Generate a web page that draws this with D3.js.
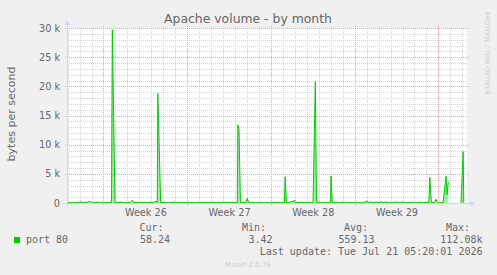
<!DOCTYPE html>
<html>
<head>
<meta charset="utf-8">
<script src="https://cdn.jsdelivr.net/npm/d3@7"></script>
<style>
  body { margin:0; background:#f0f0f0; }
  svg { display:block; }
  text { fill:#666; font-family:"DejaVu Sans", sans-serif; }
  .mono { font-family:"DejaVu Sans Mono", monospace; font-size:10px; }
</style>
</head>
<body>
<div id="vis"></div>
<script>
// days since Mon 22 Jun 2026 (start of Week 26)
var days = [
 -3.05,-2.80,-2.55,-2.22,-1.88,-1.71,-1.55,-1.38,-1.21,-1.09,
 -0.96,-0.71,-0.46,-0.33,-0.25,-0.13,0.13,0.38,0.67,0.74,
 0.96,1.21,1.52,1.63,1.96,2.22,2.34,2.42,2.51,2.80,
 3.14,3.47,3.55,3.89,4.14,4.39,4.50,4.54,4.78,4.97,
 5.14,5.23,5.56,5.98,6.06,6.40,6.82,7.23,7.65,8.07,
 8.49,8.82,9.16,9.24,9.57,9.74,9.82,9.99,10.08,10.33,
 10.58,10.66,10.99,11.19,11.23,11.33,11.45,11.66,11.91,12.02,
 12.12,12.25,12.39,12.50,12.75,13.09,13.42,13.75,14.09,14.34,
 14.42,14.59,14.67,14.92,15.13,15.19,15.30,15.51,15.76,15.84,
 15.95,16.05,16.26,16.57,16.68,16.93,17.27,17.35,17.52,17.71,
 17.81,17.94,18.11,18.19,18.44,18.56,18.69,18.77,18.90,18.98,
 19.02,19.13,19.27,19.50,19.61,19.86,20.13,20.23,20.53,20.86,
 21.19,21.53,21.78,21.95,22.03,22.12,22.42,22.53,22.87,22.95,
 23.20,23.29,23.37,23.54,23.62,23.79,23.87,24.21,24.52,24.62,
 25.04,25.13,25.46,25.63,25.71,25.90,26.00,26.30,26.46,26.55,
 26.88,27.20,27.28,27.41,27.55,27.72,27.80,27.89,28.01,28.22,
 28.39,28.64,28.72,28.83,28.90,29.89,30.07,30.12];
// port 80, bytes per second (null = no data)
var volume = [
 80,60,50,70,200,60,180,60,300,250,
 60,50,180,60,170,60,50,60,70,29700,
 80,60,180,60,60,80,300,500,100,60,
 50,150,60,60,70,300,100,18800,90,60,
 150,60,50,180,60,50,60,70,50,60,
 70,50,150,60,60,150,60,180,60,60,
 150,60,70,80,13400,12600,90,60,100,800,
 200,60,160,60,50,60,50,60,50,150,
 60,170,60,60,100,4500,90,60,300,150,
 500,100,60,170,60,60,150,60,70,20800,
 80,60,170,60,60,160,60,170,60,100,
 4650,90,60,180,60,50,170,60,60,50,
 60,50,60,250,350,80,200,60,170,60,
 200,180,60,200,60,180,60,50,200,60,
 180,60,60,170,60,160,60,60,170,60,
 60,90,4400,90,60,200,650,200,60,60,
 80,4600,1400,3650,null,60,8800,58.24];

var weekStarts = [0, 7, 14, 21, 28];
var weekLabels = ["Week 26", "Week 27", "Week 28", "Week 29"];
var yTicks = [0, 5000, 10000, 15000, 20000, 25000, 30000];
var legendHeads = ["Cur:", "Min:", "Avg:", "Max:"];
var legendValues = ["58.24", "3.42", "559.13", "112.08k"];

var W = 497, H = 275;
var pL = 67, pR = 467, pT = 28, pB = 203;

var svg = d3.select("#vis").append("svg").attr("width", W).attr("height", H);
svg.append("rect").attr("width", W).attr("height", H).attr("fill", "#f0f0f0");

var x = d3.scaleLinear().domain([-3.05, 30.39]).range([pL, pR]);
var y = d3.scaleLinear().domain([0, 30000]).range([pB, pT]);

svg.append("rect").attr("x", pL).attr("y", pT)
   .attr("width", pR - pL).attr("height", pB - pT).attr("fill", "#fff");

// minor grid
var g = svg.append("g").attr("id", "grid");
g.selectAll(".hmin").data(d3.range(1000, 30001, 1000).filter(function(v){ return v % 5000; }))
  .enter().append("line")
  .attr("x1", pL).attr("x2", pR)
  .attr("y1", function(d){ return Math.round(y(d)) + 0.5; })
  .attr("y2", function(d){ return Math.round(y(d)) + 0.5; })
  .attr("stroke", "#d4d4d4").attr("stroke-dasharray", "1,1");
g.selectAll(".vmin").data(d3.range(-3, 31).filter(function(d){ return d % 7 != 0; }))
  .enter().append("line")
  .attr("x1", function(d){ return Math.round(x(d)) + 0.5; })
  .attr("x2", function(d){ return Math.round(x(d)) + 0.5; })
  .attr("y1", pT).attr("y2", pB)
  .attr("stroke", "#d4d4d4").attr("stroke-dasharray", "1,1");
// major grid (red)
g.selectAll(".hmaj").data(yTicks.slice(1))
  .enter().append("line")
  .attr("x1", pL - 2).attr("x2", pR + 2)
  .attr("y1", function(d){ return Math.round(y(d)) + 0.5; })
  .attr("y2", function(d){ return Math.round(y(d)) + 0.5; })
  .attr("stroke", "#eaa3a3").attr("stroke-dasharray", "1,1");
g.selectAll(".vmaj").data(weekStarts)
  .enter().append("line")
  .attr("x1", function(d){ return Math.round(x(d)) + 0.5; })
  .attr("x2", function(d){ return Math.round(x(d)) + 0.5; })
  .attr("y1", pT - 2).attr("y2", pB + 3)
  .attr("stroke", "#eaa3a3").attr("stroke-dasharray", "1,1");

// data
var pts = days.map(function(d, i){ return [d, volume[i]]; });
var area = d3.area().defined(function(d){ return d[1] != null; })
   .x(function(d){ return x(d[0]); }).y0(y(0)).y1(function(d){ return y(d[1]); });
var line = d3.line().defined(function(d){ return d[1] != null; })
   .x(function(d){ return x(d[0]); }).y(function(d){ return y(d[1]); });
svg.append("path").attr("d", area(pts)).attr("fill", "#00cc00").attr("fill-opacity", 0.35);
svg.append("path").attr("d", line(pts)).attr("fill", "none")
   .attr("stroke", "#00cc00").attr("stroke-width", 1);

// axes lines + arrows
var axc = "#cfd6f8";
svg.append("line").attr("x1", pL - 4).attr("x2", pR + 4)
   .attr("y1", pB + 0.5).attr("y2", pB + 0.5).attr("stroke", axc);
svg.append("path").attr("d", "M" + (pR + 3) + "," + (pB - 2.5) + "L" + (pR + 8) + "," + (pB + 0.5) + "L" + (pR + 3) + "," + (pB + 3.5) + "Z").attr("fill", axc);
svg.append("line").attr("x1", pL + 0.5).attr("x2", pL + 0.5)
   .attr("y1", pB + 4).attr("y2", pT - 4).attr("stroke", axc);
svg.append("path").attr("d", "M" + (pL - 2.5) + "," + (pT - 3) + "L" + (pL + 0.5) + "," + (pT - 8) + "L" + (pL + 3.5) + "," + (pT - 3) + "Z").attr("fill", axc);

// tick labels
var yAxis = d3.axisLeft(y).tickValues(yTicks).tickSize(0).tickPadding(7)
   .tickFormat(function(d){ return d == 0 ? "0" : (d / 1000) + " k"; });
svg.append("g").attr("transform", "translate(" + pL + ",0)").call(yAxis)
   .call(function(s){ s.select(".domain").remove(); })
   .selectAll("text").attr("font-size", "9.7px").attr("font-family", "DejaVu Sans").attr("fill", "#666");

var xAxis = d3.axisBottom(x).tickValues(weekStarts.slice(0, 4).map(function(d){ return d + 3.5; }))
   .tickSize(0).tickPadding(6)
   .tickFormat(function(d, i){ return weekLabels[i]; });
svg.append("g").attr("transform", "translate(0," + pB + ")").call(xAxis)
   .call(function(s){ s.select(".domain").remove(); })
   .selectAll("text").attr("font-size", "9.7px").attr("font-family", "DejaVu Sans").attr("fill", "#666");

// titles
svg.append("text").attr("x", 248).attr("y", 23).attr("text-anchor", "middle")
   .attr("font-size", "12.4px").text("Apache volume - by month");
svg.append("text").attr("transform", "translate(15,114) rotate(-90)").attr("text-anchor", "middle")
   .attr("font-size", "11px").text("bytes per second");
svg.append("text").attr("transform", "translate(485,53) rotate(90)").attr("text-anchor", "middle")
   .attr("font-size", "6.5px").style("fill", "#ccc").text("RRDTOOL / TOBI OETIKER");

// legend
var colEnds = [163.5, 266, 368, 470];
var valEnds = [170, 272.5, 374.5, 482.5];
svg.append("rect").attr("x", 14).attr("y", 237).attr("width", 6).attr("height", 6).attr("fill", "#00cc00");
svg.append("text").attr("class", "mono").attr("x", 26).attr("y", 243.3).text("port 80");
svg.selectAll(".lh").data(legendHeads).enter().append("text").attr("class", "mono")
   .attr("x", function(d, i){ return colEnds[i]; }).attr("y", 230.5).attr("text-anchor", "end").text(function(d){ return d; });
svg.selectAll(".lv").data(legendValues).enter().append("text").attr("class", "mono")
   .attr("x", function(d, i){ return valEnds[i]; }).attr("y", 243.3).attr("text-anchor", "end").text(function(d){ return d; });
svg.append("text").attr("class", "mono").attr("x", 482.5).attr("y", 255.3).attr("text-anchor", "end")
   .text("Last update: Tue Jul 21 05:20:01 2026");
svg.append("text").attr("x", 248).attr("y", 267).attr("text-anchor", "middle")
   .attr("font-size", "7px").style("fill", "#ccc").text("Munin 2.0.76");
</script>
</body>
</html>
